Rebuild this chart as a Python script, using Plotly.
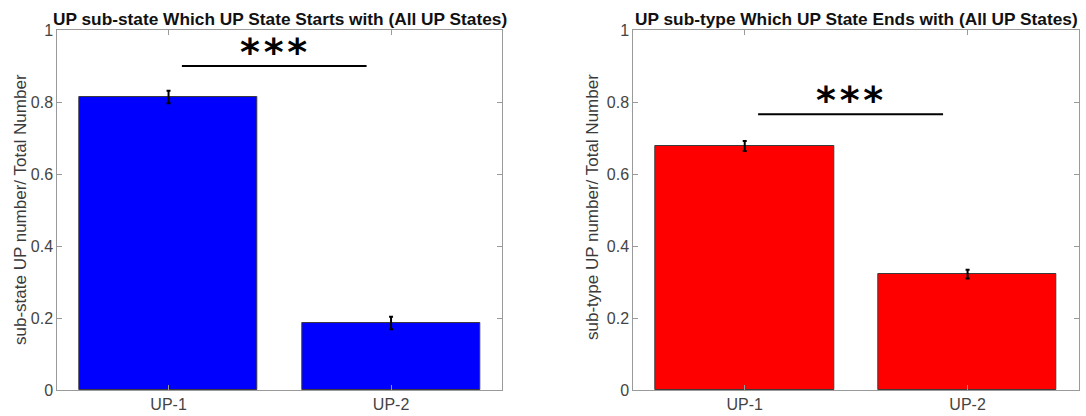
import plotly.graph_objects as go

# Data
categories = ["UP-1", "UP-2"]
cat_pos = [1, 2]

start_means = [0.814, 0.186]
start_sem = [0.0175, 0.0175]

end_means = [0.678, 0.322]
end_sem = [0.014, 0.012]

sig_left_y = 0.90
sig_right_y = 0.766
sig_x = [1.06, 1.89]
sig_text = "*\u200a*\u200a*"

titles = [
    "UP sub-state Which UP State Starts with (All UP States)",
    "UP sub-type Which UP State Ends with (All UP States)",
]
ylabels = [
    "sub-state UP number/ Total Number",
    "sub-type UP number/ Total Number",
]
y_ticks = [0, 0.2, 0.4, 0.6, 0.8, 1]
y_ticktext = ["0", "0.2", "0.4", "0.6", "0.8", "1"]

W, H = 1086, 416
FONT = "Liberation Sans, Arial, sans-serif"
TICK_COLOR = "#444444"
AXIS_COLOR = "#9a9a9a"

fig = go.Figure()


def px_x(p):
    return p / W


def px_y(p):
    return 1 - p / H


fig.add_trace(go.Bar(
    x=cat_pos, y=start_means, width=0.8,
    marker=dict(color="#0000ff", line=dict(color="#3a3a3a", width=1)),
    error_y=dict(type="data", array=start_sem, color="black", thickness=2, width=2),
    xaxis="x", yaxis="y", showlegend=False,
))
fig.add_trace(go.Bar(
    x=cat_pos, y=end_means, width=0.8,
    marker=dict(color="#ff0000", line=dict(color="#3a3a3a", width=1)),
    error_y=dict(type="data", array=end_sem, color="black", thickness=2, width=2),
    xaxis="x2", yaxis="y2", showlegend=False,
))

axis_common = dict(
    showline=True, linecolor=AXIS_COLOR, linewidth=1, mirror="ticks",
    ticks="inside", ticklen=5, tickcolor=AXIS_COLOR,
    showgrid=False, zeroline=False, automargin=False,
    tickfont=dict(family=FONT, size=16, color=TICK_COLOR),
)

left_dom = [px_x(57.3), px_x(502.3)]
right_dom = [px_x(633.3), px_x(1079)]
y_dom = [px_y(390), px_y(30)]

fig.update_layout(
    width=W, height=H,
    margin=dict(l=0, r=0, t=0, b=0),
    paper_bgcolor="white", plot_bgcolor="white",
    bargap=0,
    xaxis=dict(domain=left_dom, range=[0.5, 2.5], tickvals=cat_pos, ticktext=categories,
               anchor="y", **axis_common),
    yaxis=dict(domain=y_dom, range=[0, 1], tickvals=y_ticks, ticktext=y_ticktext,
               anchor="x", **axis_common),
    xaxis2=dict(domain=right_dom, range=[0.5, 2.5], tickvals=cat_pos, ticktext=categories,
                anchor="y2", **axis_common),
    yaxis2=dict(domain=y_dom, range=[0, 1], tickvals=y_ticks, ticktext=y_ticktext,
                anchor="x2", **axis_common),
)

# significance bars
for xr, yr, yv in [("x", "y", sig_left_y), ("x2", "y2", sig_right_y)]:
    fig.add_shape(type="line", xref=xr, yref=yr, x0=sig_x[0], x1=sig_x[1], y0=yv, y1=yv,
                  line=dict(color="black", width=2))
    fig.add_annotation(xref=xr, yref=yr, x=1.47, y=yv, yshift=14, text="<b>" + sig_text + "</b>",
                       showarrow=False, xanchor="center", yanchor="middle",
                       font=dict(family="DejaVu Sans, sans-serif", size=38, color="black"))

# titles
for dom, t in zip([left_dom, right_dom], titles):
    fig.add_annotation(xref="paper", yref="paper", x=(dom[0] + dom[1]) / 2, y=px_y(19),
                       text="<b>" + t + "</b>", showarrow=False, xanchor="center",
                       yanchor="middle", font=dict(family=FONT, size=17.3, color="#111111"))

# y-axis labels
for xc, yc, t in [(20, 210, ylabels[0]), (592, 207, ylabels[1])]:
    fig.add_annotation(xref="paper", yref="paper", x=px_x(xc), y=px_y(yc), text=t,
                       textangle=-90, showarrow=False, xanchor="center", yanchor="middle",
                       font=dict(family=FONT, size=17, color="#3a3a3a"))

fig.write_html("out.html")
